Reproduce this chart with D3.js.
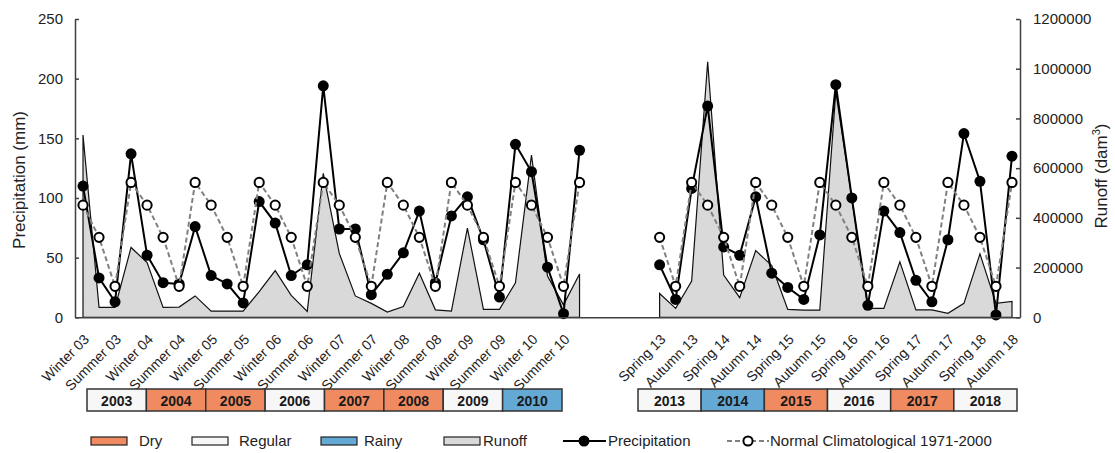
<!DOCTYPE html>
<html>
<head>
<meta charset="utf-8">
<script src="https://cdn.jsdelivr.net/npm/d3@7/dist/d3.min.js"></script>
<style>
  body { margin: 0; background: #fff; }
  svg { font-family: "Liberation Sans", Arial, sans-serif; }
</style>
</head>
<body>
<div id="chart"></div>
<script>
// period 1: 2003-2010, seasons Winter..Autumn
const seasonsA = [
  "Winter 03","Spring 03","Summer 03","Autumn 03","Winter 04","Spring 04","Summer 04","Autumn 04",
  "Winter 05","Spring 05","Summer 05","Autumn 05","Winter 06","Spring 06","Summer 06","Autumn 06",
  "Winter 07","Spring 07","Summer 07","Autumn 07","Winter 08","Spring 08","Summer 08","Autumn 08",
  "Winter 09","Spring 09","Summer 09","Autumn 09","Winter 10","Spring 10","Summer 10","Autumn 10"];
const precipA = [110, 33, 13, 137, 52, 29, 28, 76, 35, 28, 12, 97, 79, 35, 44, 194,
                 74, 74, 19, 36, 54, 89, 29, 85, 101, 65, 17, 145, 122, 42, 3, 140];
const normalA = [94, 67, 26, 113, 94, 67, 26, 113, 94, 67, 26, 113, 94, 67, 26, 113,
                 94, 67, 26, 113, 94, 67, 26, 113, 94, 67, 26, 113, 94, 67, 26, 113];
const runoffA = [733000, 40000, 40000, 281000, 220000, 40000, 41000, 86000,
                 25000, 25000, 25000, 103000, 188000, 88000, 24000, 579000,
                 257000, 86000, 56000, 21000, 43000, 177000, 30000, 25000,
                 359000, 32000, 32000, 139000, 653000, 166000, 50000, 174000];

// period 2: 2013-2018, seasons Spring..Winter
const seasonsB = [
  "Spring 13","Summer 13","Autumn 13","Winter 14","Spring 14","Summer 14","Autumn 14","Winter 15",
  "Spring 15","Summer 15","Autumn 15","Winter 16","Spring 16","Summer 16","Autumn 16","Winter 17",
  "Spring 17","Summer 17","Autumn 17","Winter 18","Spring 18","Summer 18","Autumn 18"];
const precipB = [44, 15, 108, 177, 59, 52, 101, 37, 25, 15, 69, 195, 100, 10, 89, 71,
                 31, 13, 65, 154, 114, 2, 135];
const normalB = [67, 26, 113, 94, 67, 26, 113, 94, 67, 26, 113, 94, 67, 26, 113, 94,
                 67, 26, 113, 94, 67, 26, 113];
const runoffB = [96000, 36000, 146000, 1028000, 170000, 79000, 268000, 208000,
                 32000, 29000, 29000, 907000, 480000, 36000, 36000, 223000,
                 30000, 30000, 16000, 56000, 255000, 56000, 64000];

const yearsA = ["2003","2004","2005","2006","2007","2008","2009","2010"];
const classA = ["Regular","Dry","Dry","Regular","Dry","Dry","Regular","Rainy"];
const yearsB = ["2013","2014","2015","2016","2017","2018"];
const classB = ["Regular","Rainy","Dry","Regular","Dry","Regular"];

const precipTicks = [0, 50, 100, 150, 200, 250];
const runoffTicks = [0, 200000, 400000, 600000, 800000, 1000000, 1200000];
const gapCats = ["gap1","gap2","gap3","gap4"];

const classColor = {Dry: "#f08a60", Regular: "#f7f7f7", Rainy: "#64a9d4"};
const axisColor = "#404040";

const W = 1115, H = 453;
const plotL = 75, plotR = 1020, plotT = 19, plotB = 317.3;

const svg = d3.select("#chart").append("svg").attr("width", W).attr("height", H);

const x = d3.scaleBand().domain([...seasonsA, ...gapCats, ...seasonsB]).range([plotL, plotR]);
const cx = (c) => x(c) + x.bandwidth() / 2;
const y = d3.scaleLinear().domain([0, 250]).range([plotB, plotT]);
const yR = d3.scaleLinear().domain([0, 1200000]).range([plotB, plotT]);

const segA = seasonsA.map((c, i) => ({c, p: precipA[i], n: normalA[i], r: runoffA[i]}));
const segB = seasonsB.map((c, i) => ({c, p: precipB[i], n: normalB[i], r: runoffB[i]}));

// runoff area
const area = d3.area().x(d => cx(d.c)).y0(yR(0)).y1(d => yR(d.r));
svg.selectAll("path.runoff").data([segA, segB]).enter().append("path")
  .attr("class", "runoff")
  .attr("d", area)
  .attr("fill", "#d9d9d9")
  .attr("stroke", "#111")
  .attr("stroke-width", 1.2)
  .attr("stroke-linejoin", "miter");

// precipitation
const lineP = d3.line().x(d => cx(d.c)).y(d => y(d.p));
svg.selectAll("path.precip").data([segA, segB]).enter().append("path")
  .attr("class", "precip")
  .attr("d", lineP)
  .attr("fill", "none")
  .attr("stroke", "#000")
  .attr("stroke-width", 2);
svg.selectAll("circle.precip").data([...segA, ...segB]).enter().append("circle")
  .attr("class", "precip")
  .attr("cx", d => cx(d.c)).attr("cy", d => y(d.p))
  .attr("r", 5.5).attr("fill", "#000");

// climatological normal
const lineN = d3.line().x(d => cx(d.c)).y(d => y(d.n));
svg.selectAll("path.normal").data([segA, segB]).enter().append("path")
  .attr("class", "normal")
  .attr("d", lineN)
  .attr("fill", "none")
  .attr("stroke", "#808080")
  .attr("stroke-width", 2)
  .attr("stroke-dasharray", "5,3");
svg.selectAll("circle.normal").data([...segA, ...segB]).enter().append("circle")
  .attr("class", "normal")
  .attr("cx", d => cx(d.c)).attr("cy", d => y(d.n))
  .attr("r", 4.6).attr("fill", "#fff").attr("stroke", "#000").attr("stroke-width", 2);

// axes
const styleAxis = (g) => {
  g.attr("color", axisColor);
  g.selectAll("path, line").attr("stroke-width", 1.5);
  g.selectAll("text").attr("fill", "#222").attr("font-size", 15)
    .attr("font-family", "'Liberation Sans', Arial, sans-serif");
};

svg.append("g").attr("transform", `translate(${plotL},0)`)
  .call(d3.axisLeft(y).tickValues(precipTicks).tickSizeInner(-4).tickSizeOuter(0).tickPadding(12))
  .call(styleAxis);

svg.append("g").attr("transform", `translate(${plotR},0)`)
  .call(d3.axisRight(yR).tickValues(runoffTicks).tickFormat(d3.format("d"))
    .tickSizeInner(-4).tickSizeOuter(0).tickPadding(13))
  .call(styleAxis);

const labelled = [...seasonsA.filter((c, i) => i % 2 === 0), ...seasonsB.filter((c, i) => i % 2 === 0)];
const xAxis = svg.append("g").attr("transform", `translate(0,${plotB})`)
  .call(d3.axisBottom(x).tickValues(labelled).tickSize(0).tickSizeOuter(0))
  .call(styleAxis);
xAxis.selectAll("text")
  .attr("x", 0).attr("y", 0).attr("dy", null)
  .attr("font-size", 14)
  .attr("text-anchor", "end")
  .attr("transform", "translate(7,23) rotate(-45)");

// axis titles
svg.append("text")
  .attr("transform", "translate(25,180) rotate(-90)")
  .attr("text-anchor", "middle").attr("font-size", 17).attr("fill", "#222")
  .text("Precipitation (mm)");

const rt = svg.append("text")
  .attr("transform", "translate(1107,176) rotate(-90)")
  .attr("text-anchor", "middle").attr("font-size", 17).attr("fill", "#222");
rt.append("tspan").text("Runoff (dam");
rt.append("tspan").attr("font-size", 11).attr("dy", -7).text("3");
rt.append("tspan").attr("dy", 7).text(")");

// year classification boxes
const drawYears = (years, classes, range) => {
  const b = d3.scaleBand().domain(years).range(range);
  const g = svg.append("g");
  g.selectAll("rect").data(years).enter().append("rect")
    .attr("x", d => b(d)).attr("y", 389)
    .attr("width", b.bandwidth()).attr("height", 22)
    .attr("fill", (d, i) => classColor[classes[i]])
    .attr("stroke", "#333").attr("stroke-width", 1.5);
  g.selectAll("text").data(years).enter().append("text")
    .attr("x", d => b(d) + b.bandwidth() / 2).attr("y", 406)
    .attr("text-anchor", "middle").attr("font-size", 14).attr("font-weight", "bold")
    .attr("fill", "#1a1a1a")
    .text(d => d);
};
drawYears(yearsA, classA, [87, 562]);
drawYears(yearsB, classB, [638, 1017]);

// legend
const ly = 441;
const legend = svg.append("g").attr("font-size", 15).attr("fill", "#222");
const swatches = [
  {label: "Dry", fill: classColor.Dry, x: 91, tx: 139},
  {label: "Regular", fill: classColor.Regular, x: 192, tx: 239},
  {label: "Rainy", fill: classColor.Rainy, x: 321, tx: 364},
  {label: "Runoff", fill: "#d9d9d9", x: 444, tx: 483}
];
swatches.forEach(s => {
  legend.append("rect").attr("x", s.x).attr("y", ly - 4).attr("width", 36).attr("height", 8)
    .attr("fill", s.fill).attr("stroke", "#222").attr("stroke-width", 1.2);
  legend.append("text").attr("x", s.tx).attr("y", ly).attr("dy", "0.35em").text(s.label);
});
legend.append("line").attr("x1", 563).attr("x2", 606).attr("y1", ly).attr("y2", ly)
  .attr("stroke", "#000").attr("stroke-width", 2);
legend.append("circle").attr("cx", 584).attr("cy", ly).attr("r", 5.5).attr("fill", "#000");
legend.append("text").attr("x", 608).attr("y", ly).attr("dy", "0.35em").text("Precipitation");
legend.append("line").attr("x1", 727).attr("x2", 769).attr("y1", ly).attr("y2", ly)
  .attr("stroke", "#808080").attr("stroke-width", 2).attr("stroke-dasharray", "5,3");
legend.append("circle").attr("cx", 748).attr("cy", ly).attr("r", 4.6)
  .attr("fill", "#fff").attr("stroke", "#000").attr("stroke-width", 2);
legend.append("text").attr("x", 770).attr("y", ly).attr("dy", "0.35em").text("Normal Climatological 1971-2000");
</script>
</body>
</html>
